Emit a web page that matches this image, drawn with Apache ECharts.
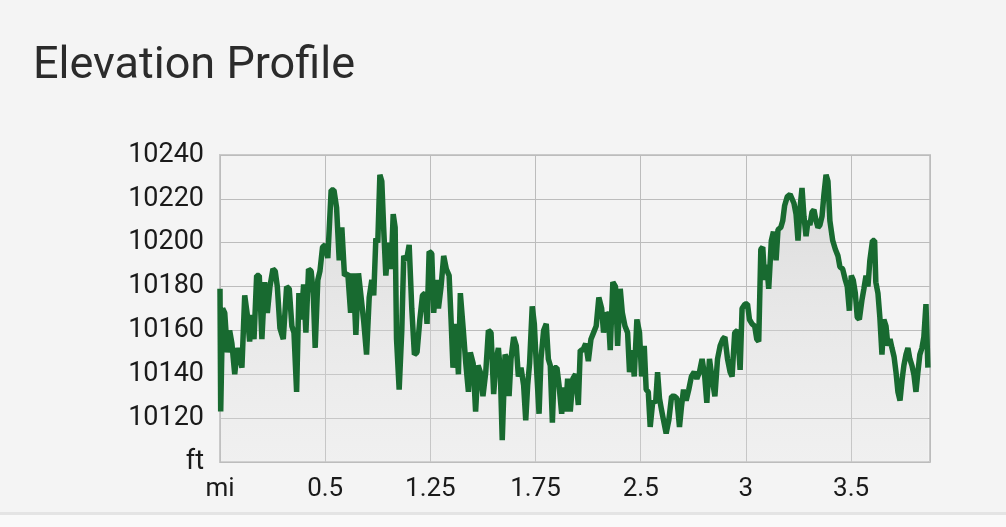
<!DOCTYPE html>
<html>
<head>
<meta charset="utf-8">
<script src="https://cdn.jsdelivr.net/npm/echarts@6/dist/echarts.min.js"></script>
<style>
  html, body { margin: 0; padding: 0; background: #f4f4f4; }
  #chart { width: 1006px; height: 527px; }
</style>
</head>
<body>
<div id="chart"></div>
<script>
// Distance along the trail (miles)
var distMi = [
  0.000, 0.004, 0.015, 0.027, 0.042, 0.055, 0.068, 0.084, 0.099, 0.112, 0.125, 0.141, 0.156, 0.169, 0.182, 0.194,
  0.209, 0.224, 0.239, 0.255, 0.270, 0.285, 0.302, 0.315, 0.327, 0.342, 0.361, 0.380, 0.395, 0.410, 0.422, 0.437,
  0.450, 0.463, 0.477, 0.490, 0.505, 0.520, 0.532, 0.543, 0.558, 0.570, 0.585, 0.600, 0.615, 0.634, 0.650, 0.665,
  0.680, 0.695, 0.710, 0.729, 0.745, 0.760, 0.775, 0.790,
  0.820, 0.836, 0.851, 0.866, 0.877, 0.889, 0.900, 0.912, 0.923, 0.934, 0.946, 0.961, 0.976, 0.988, 0.999, 1.007,
  1.022, 1.037, 1.048, 1.064, 1.079, 1.094, 1.109, 1.124, 1.140, 1.155, 1.170, 1.181, 1.193, 1.208, 1.219, 1.234,
  1.246, 1.261, 1.276, 1.291, 1.307, 1.318, 1.329, 1.345, 1.360, 1.371, 1.387, 1.402, 1.417, 1.428, 1.444, 1.458,
  1.472, 1.485, 1.500, 1.516, 1.531, 1.546, 1.561, 1.576, 1.588, 1.599, 1.610,
  1.626, 1.641, 1.649, 1.660, 1.675, 1.690, 1.702, 1.717, 1.732, 1.744, 1.755, 1.766, 1.781, 1.793, 1.804, 1.820,
  1.831, 1.846, 1.861, 1.873, 1.884, 1.896, 1.907, 1.922, 1.934, 1.949, 1.960, 1.971, 1.983, 1.998, 2.013, 2.028,
  2.044, 2.055, 2.070, 2.086, 2.101, 2.116, 2.131, 2.146, 2.161, 2.177, 2.188, 2.203, 2.215, 2.226, 2.241, 2.256,
  2.268, 2.283, 2.295, 2.310, 2.325, 2.336, 2.351, 2.363, 2.378, 2.393, 2.405, 2.420,
  2.431, 2.443, 2.454, 2.469, 2.485, 2.496, 2.507, 2.518, 2.530, 2.545, 2.560, 2.576, 2.591, 2.606, 2.621, 2.632,
  2.644, 2.659, 2.674, 2.689, 2.705, 2.720, 2.735, 2.750, 2.765, 2.777, 2.792, 2.807, 2.823, 2.838, 2.853, 2.868,
  2.880, 2.895, 2.910, 2.921, 2.936, 2.952, 2.967, 2.978, 2.994, 3.009, 3.020, 3.035, 3.050, 3.062, 3.073, 3.085,
  3.096, 3.107, 3.119, 3.130, 3.145, 3.157, 3.172, 3.183, 3.199, 3.210, 3.221, 3.236,
  3.252, 3.263, 3.274, 3.286, 3.297, 3.309, 3.320, 3.331, 3.343, 3.354, 3.365, 3.377, 3.388, 3.400, 3.411, 3.422,
  3.434, 3.445, 3.457, 3.468, 3.479, 3.495, 3.510, 3.525, 3.536, 3.552, 3.567, 3.578, 3.590, 3.601, 3.612, 3.624,
  3.635, 3.647, 3.662, 3.673, 3.685, 3.696, 3.707, 3.722, 3.734, 3.741, 3.753, 3.764, 3.776, 3.787, 3.799, 3.810,
  3.822, 3.833, 3.845, 3.856, 3.867, 3.879, 3.890, 3.901, 3.913, 3.924, 3.935, 3.947, 3.958, 3.970, 3.981, 3.992,
  4.004, 4.015, 4.027, 4.038
];

// Elevation (feet)
var elevFt = [
  10179, 10123, 10170, 10168, 10150, 10160, 10154, 10140, 10152, 10148, 10143, 10176, 10167, 10155, 10167, 10156,
  10185, 10185, 10156, 10182, 10168, 10180, 10188, 10187, 10180, 10161, 10156, 10180, 10179, 10162, 10159, 10132,
  10177, 10165, 10181, 10159, 10188, 10187, 10177, 10152, 10183, 10187, 10198, 10199, 10193, 10224, 10224, 10216,
  10192, 10207, 10185, 10186, 10168, 10186, 10158, 10186,
  10164, 10149, 10175, 10183, 10176, 10202, 10200, 10231, 10228, 10206, 10185, 10200, 10188, 10213, 10207, 10156,
  10133, 10160, 10194, 10192, 10199, 10170, 10149, 10150, 10165, 10176, 10177, 10163, 10196, 10195, 10168, 10183,
  10170, 10180, 10194, 10188, 10185, 10165, 10143, 10163, 10140, 10177, 10161, 10145, 10132, 10150, 10145, 10123,
  10144, 10141, 10130, 10141, 10160, 10159, 10131, 10147, 10152, 10141, 10110,
  10149, 10146, 10130, 10147, 10157, 10153, 10139, 10143, 10135, 10119, 10135, 10145, 10171, 10163, 10145, 10122,
  10147, 10160, 10163, 10147, 10144, 10118, 10143, 10143, 10135, 10122, 10134, 10123, 10138, 10123, 10138, 10140,
  10126, 10151, 10151, 10154, 10146, 10156, 10159, 10162, 10175, 10170, 10159, 10168, 10167, 10151, 10182, 10180,
  10153, 10179, 10168, 10162, 10159, 10141, 10151, 10139, 10165, 10159, 10139, 10153,
  10133, 10132, 10116, 10128, 10127, 10141, 10129, 10124, 10119, 10113, 10119, 10130, 10130, 10129, 10116, 10125,
  10133, 10128, 10133, 10139, 10141, 10138, 10141, 10147, 10139, 10127, 10147, 10138, 10130, 10147, 10153, 10156,
  10157, 10147, 10141, 10139, 10159, 10160, 10142, 10170, 10172, 10172, 10165, 10163, 10162, 10156, 10155, 10197,
  10198, 10183, 10190, 10179, 10201, 10205, 10192, 10206, 10207, 10210, 10217, 10221,
  10222, 10222, 10218, 10213, 10201, 10216, 10225, 10212, 10203, 10210, 10208, 10214, 10215, 10210, 10207, 10208,
  10212, 10222, 10231, 10228, 10210, 10201, 10197, 10194, 10189, 10188, 10183, 10180, 10169, 10185, 10183, 10177,
  10166, 10165, 10174, 10179, 10185, 10180, 10192, 10201, 10201, 10182, 10177, 10166, 10149, 10165, 10162, 10153,
  10156, 10152, 10148, 10141, 10132, 10128, 10137, 10144, 10149, 10152, 10147, 10144, 10140, 10132, 10141, 10149,
  10152, 10157, 10172, 10143
];

// Tick labels as shown on the chart (x ticks every 0.6 mi, labels rounded as displayed)
var xTickLabels = ['mi', '0.5', '1.25', '1.75', '2.5', '3', '3.5'];
var yTickLabels = ['ft', '10120', '10140', '10160', '10180', '10200', '10220', '10240'];

var X_MIN = 0, X_MAX = 4.05, X_STEP = 0.6;
var Y_MIN = 10100, Y_MAX = 10240, Y_STEP = 20;

var seriesData = distMi.map(function (d, i) { return [d, elevFt[i]]; });

var chart = echarts.init(document.getElementById('chart'), null, { renderer: 'canvas' });
chart.setOption({
  backgroundColor: '#f4f4f4',
  animation: false,
  title: {
    text: 'Elevation Profile',
    left: 33,
    top: 44,
    padding: 0,
    textStyle: { fontFamily: 'Roboto', fontSize: 45, fontWeight: 'normal', color: '#2b2b2b' }
  },
  grid: {
    left: 220, right: 76, top: 155, bottom: 65,
    show: true, borderColor: '#c9c9c9', borderWidth: 2, backgroundColor: '#f3f3f3'
  },
  xAxis: {
    type: 'value',
    min: X_MIN, max: X_MAX, interval: X_STEP,
    axisLine: { show: false },
    axisTick: { show: false },
    splitLine: { show: true, lineStyle: { color: '#bcbcbc', width: 1 } },
    axisLabel: {
      margin: 14,
      showMaxLabel: false,
      fontFamily: 'Roboto', fontSize: 26, color: '#1a1a1a',
      formatter: function (v) {
        var idx = Math.round(v / X_STEP);
        if (Math.abs(v - idx * X_STEP) > 1e-6) return '';
        return xTickLabels[idx] !== undefined ? xTickLabels[idx] : '';
      }
    }
  },
  yAxis: {
    type: 'value',
    min: Y_MIN, max: Y_MAX, interval: Y_STEP,
    axisLine: { show: false },
    axisTick: { show: false },
    splitLine: { show: true, lineStyle: { color: '#bcbcbc', width: 1 } },
    axisLabel: {
      margin: 16,
      fontFamily: 'Roboto', fontSize: 27, color: '#1a1a1a',
      formatter: function (v) {
        var idx = Math.round((v - Y_MIN) / Y_STEP);
        return yTickLabels[idx] !== undefined ? yTickLabels[idx] : '';
      }
    }
  },
  series: [{
    type: 'line',
    data: seriesData,
    showSymbol: false,
    symbol: 'none',
    lineStyle: { color: '#186a30', width: 5.5, join: 'bevel', cap: 'butt' },
    areaStyle: {
      origin: 'start',
      color: new echarts.graphic.LinearGradient(0, 0, 0, 1, [
        { offset: 0, color: 'rgba(200,200,200,0.8)' },
        { offset: 1, color: 'rgba(230,230,230,0.35)' }
      ])
    }
  }],
  graphic: [
    { type: 'rect', left: 0, top: 514, shape: { width: 1006, height: 13 }, style: { fill: '#f9f9f9' }, z: 100 },
    { type: 'rect', left: 0, top: 512, shape: { width: 1006, height: 3 }, style: { fill: '#e4e4e4' }, z: 100 }
  ]
});
</script>
</body>
</html>
